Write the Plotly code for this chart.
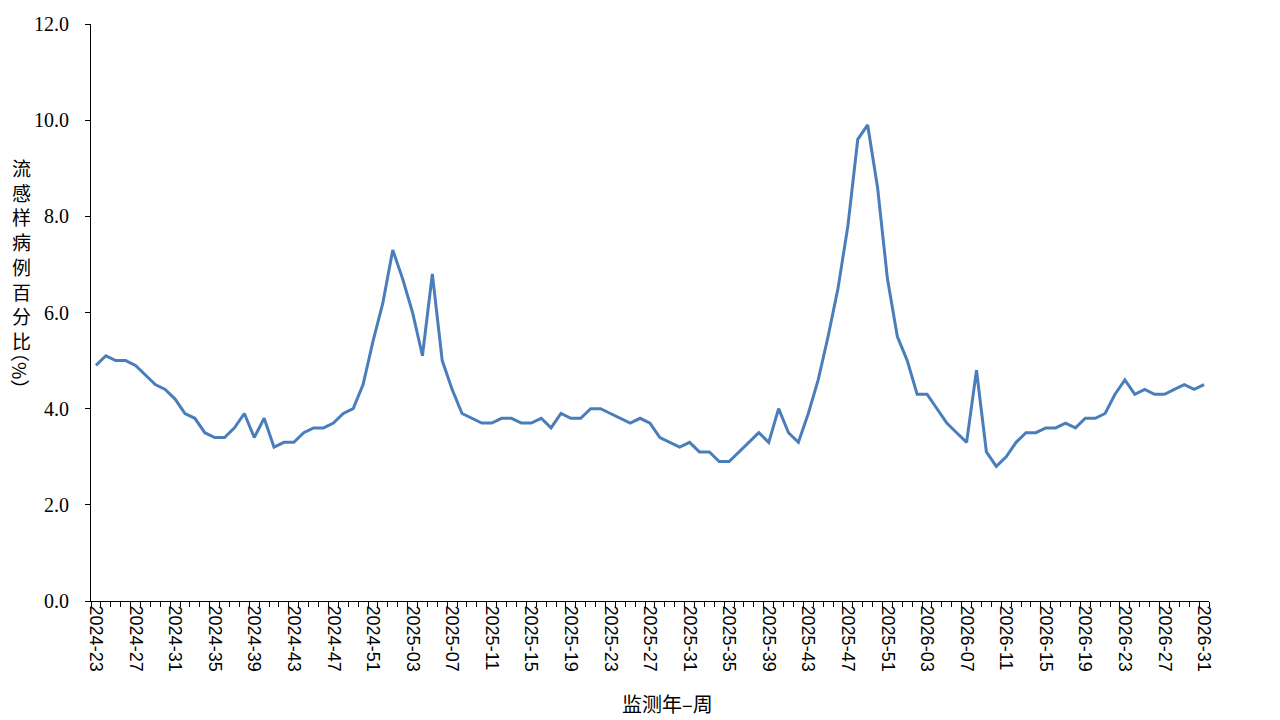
import plotly.graph_objects as go

# categories: surveillance year-week
weeks = ([f"2024-{w:02d}" for w in range(23, 53)]
         + [f"2025-{w:02d}" for w in range(1, 53)]
         + [f"2026-{w:02d}" for w in range(1, 32)])

# ILI percentage (%)
ili_pct = [
    4.9, 5.1, 5.0, 5.0, 4.9, 4.7, 4.5, 4.4, 4.2, 3.9, 3.8, 3.5, 3.4, 3.4,
    3.6, 3.9, 3.4, 3.8, 3.2, 3.3, 3.3, 3.5, 3.6, 3.6, 3.7, 3.9, 4.0, 4.5,
    5.4, 6.2, 7.3, 6.7, 6.0, 5.1, 6.8, 5.0, 4.4, 3.9, 3.8, 3.7, 3.7,
    3.8, 3.8, 3.7, 3.7, 3.8, 3.6, 3.9, 3.8, 3.8, 4.0, 4.0, 3.9, 3.8, 3.7,
    3.8, 3.7, 3.4, 3.3, 3.2, 3.3, 3.1, 3.1, 2.9, 2.9, 3.1, 3.3, 3.5, 3.3,
    4.0, 3.5, 3.3,
    3.9, 4.6, 5.5, 6.5, 7.8, 9.6, 9.9, 8.6, 6.7, 5.5,
    5.0, 4.3, 4.3, 4.0, 3.7, 3.5, 3.3, 4.8, 3.1, 2.8, 3.0, 3.3, 3.5, 3.5,
    3.6, 3.6, 3.7, 3.6, 3.8, 3.8, 3.9, 4.3, 4.6, 4.3, 4.4, 4.3, 4.3, 4.4,
    4.5, 4.4, 4.5,
]

y_ticks = [0, 2, 4, 6, 8, 10, 12]
label_step = 4

x_idx = list(range(len(weeks)))
tick_idx = x_idx[::label_step]
tick_txt = weeks[::label_step]

cjk = "Noto Sans CJK SC"

# page body offset (browser default body margin)
OFF = 8
W, H = 1280 - OFF, 720 - OFF
L, R, T, B = 91 - OFF, 71, 24 - OFF, 119

fig = go.Figure()
fig.add_trace(go.Scatter(
    x=x_idx, y=ili_pct, mode="lines",
    line=dict(color="#4A7EBB", width=3),
    hoverinfo="skip", showlegend=False,
))

fig.update_layout(
    width=W, height=H,
    margin=dict(l=L, r=R, t=T, b=B, autoexpand=False),
    paper_bgcolor="white", plot_bgcolor="white",
    showlegend=False,
)

fig.update_xaxes(
    range=[-0.5, len(weeks) - 0.5],
    tickmode="array", tickvals=tick_idx, ticktext=tick_txt,
    tickangle=90, ticks="",
    tickfont=dict(family="Liberation Sans", size=18, color="black"),
    showline=True, linecolor="black", linewidth=1,
    showgrid=False, zeroline=False,
    minor=dict(ticks="outside", ticklen=5, tickcolor="black", tickwidth=1,
               tick0=-0.5, dtick=1, showgrid=False),
)

fig.update_yaxes(
    range=[0, 12],
    tickmode="array", tickvals=y_ticks, tickformat=".1f",
    ticks="outside", ticklen=5, tickcolor="black",
    ticklabelstandoff=12,
    tickfont=dict(family="Liberation Serif", size=20, color="black"),
    showline=True, linecolor="black", linewidth=1,
    showgrid=False, zeroline=False,
)

pw = W - L - R
ph = H - T - B


def px_x(p):
    return (p - OFF - L) / pw


def px_y(p):
    return (H - B - (p - OFF)) / ph


fig.add_annotation(
    text="<br>".join(list("流感样病例百分比")),
    xref="paper", yref="paper", x=px_x(21), y=px_y(254),
    xanchor="center", yanchor="middle", showarrow=False,
    font=dict(family=cjk, size=19, color="black"),
)
fig.add_annotation(
    text="（%）", textangle=90,
    xref="paper", yref="paper", x=px_x(21), y=px_y(371),
    xanchor="center", yanchor="middle", showarrow=False,
    font=dict(family=cjk, size=19, color="black"),
)
fig.add_annotation(
    text="监测年–周",
    xref="paper", yref="paper", x=px_x(667), y=px_y(703),
    xanchor="center", yanchor="middle", showarrow=False,
    font=dict(family=cjk, size=20, color="black"),
)

fig.write_html("out.html")
